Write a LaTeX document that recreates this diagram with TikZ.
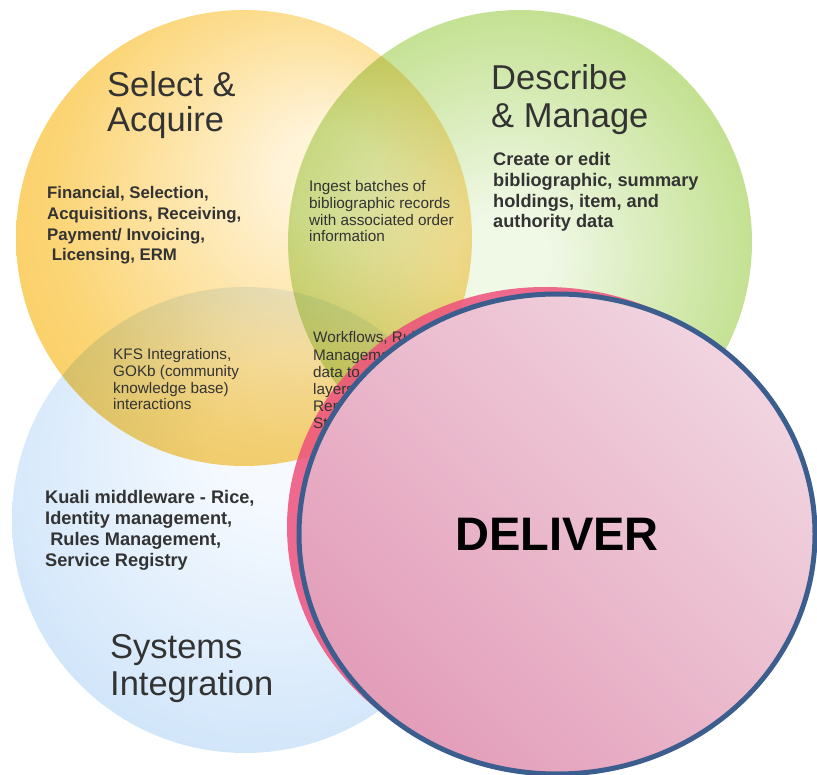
\documentclass[tikz,border=0pt]{standalone}
\usepackage{fontspec}
\setmainfont{Liberation Sans}
\usetikzlibrary{shapes.geometric}

\definecolor{acqpale}{HTML}{FFF3D8}
\definecolor{acqmid}{HTML}{FBD474}
\definecolor{acqdeep}{HTML}{F8C03C}
\definecolor{descpale}{HTML}{F0F8E6}
\definecolor{descmid}{HTML}{C4E192}
\definecolor{descdeep}{HTML}{A6D05A}
\definecolor{intpale}{HTML}{F6FAFF}
\definecolor{intmid}{HTML}{D2E6FA}
\definecolor{intdeep}{HTML}{9CC7F3}
\definecolor{deliverred}{HTML}{EE507C}
\definecolor{deliverdeep}{HTML}{E39DB8}
\definecolor{deliverpale}{HTML}{F1D4E0}
\definecolor{deliverrim}{HTML}{3B5E8E}
\definecolor{inkgrey}{HTML}{333333}

\pgfdeclareradialshading{acquireshade}{\pgfpoint{10bp}{8bp}}{color(0bp)=(acqpale); color(5bp)=(acqpale); color(26bp)=(acqmid); color(50bp)=(acqdeep)}
\pgfdeclareradialshading{describeshade}{\pgfpoint{-2bp}{-2bp}}{color(0bp)=(descpale); color(5bp)=(descpale); color(26bp)=(descmid); color(50bp)=(descdeep)}
\pgfdeclareradialshading{integrateshade}{\pgfpoint{6bp}{12bp}}{color(0bp)=(intpale); color(8bp)=(intpale); color(30bp)=(intmid); color(50bp)=(intdeep)}

\begin{document}
\begin{tikzpicture}[
        x=1pt, y=-1pt,
        petal/.style={circle, inner sep=0pt, shade},
        lobe/.style={ellipse, inner sep=0pt, minimum width=516pt, minimum height=480pt},
        bigtext/.style={anchor=base west, inner sep=0pt, align=left, text=inkgrey, font=\fontsize{34.5}{#1}\selectfont},
        boldtext/.style={anchor=base west, inner sep=0pt, align=left, text=inkgrey, font=\bfseries\fontsize{#1}{20.8}\selectfont},
        thintext/.style={anchor=base west, inner sep=0pt, align=left, text=inkgrey, font=\fontsize{15.3}{#1}\selectfont}
    ]
        \useasboundingbox (0,0) rectangle (817,775);

        % Circles
        \begin{scope}[blend mode=multiply]
            \node[petal, minimum size=456pt, shading=acquireshade] (acquire) at (244,238) {};
            \node[petal, minimum size=464pt, shading=describeshade] (describe) at (520,242) {};
            \node[petal, minimum size=466pt, shading=integrateshade] (integrate) at (245,520) {};
        \end{scope}
        \node[lobe, fill=deliverred, fill opacity=0.85] (deliverback) at (545,527) {};

        % Titles (anchored at the last line)
        \node[bigtext=35] (acquirelbl) at (107,132) {Select \&\\Acquire};
        \node[bigtext=38] (describelbl) at (491,128) {Describe\\\& Manage};
        \node[bigtext=37] (integratelbl) at (110,695) {Systems\\Integration};

        % Notes
        \node[boldtext=16.8] (acquirenote) at (47,261) {Financial, Selection,\\Acquisitions, Receiving,\\Payment/ Invoicing,\\\ Licensing, ERM};
        \node[boldtext=18.2] (describenote) at (493,228) {Create or edit\\bibliographic, summary\\holdings, item, and\\authority data};
        \node[boldtext=18.2] (integratenote) at (45,566) {Kuali middleware - Rice,\\Identity management,\\\ Rules Management,\\Service Registry};
        \node[thintext=16.7] (ingestnote) at (309,242) {Ingest batches of\\bibliographic records\\with associated order\\information};
        \node[thintext=16.8] (kfsnote) at (113,410) {KFS Integrations,\\GOKb (community\\knowledge base)\\interactions};
        \node[thintext=17.2] (workflownote) at (313,429) {Workflows, Rules\\Management, pass\\data to discovery\\layers,\\Reports,\\Stats};

        % Deliver
        \node[lobe, draw=deliverrim, line width=5pt, left color=deliverpale, right color=deliverdeep, shading angle=-45, font=\bfseries\fontsize{47}{50}\selectfont] (deliver) at (557,534) {DELIVER};
    \end{tikzpicture}
\end{document}
